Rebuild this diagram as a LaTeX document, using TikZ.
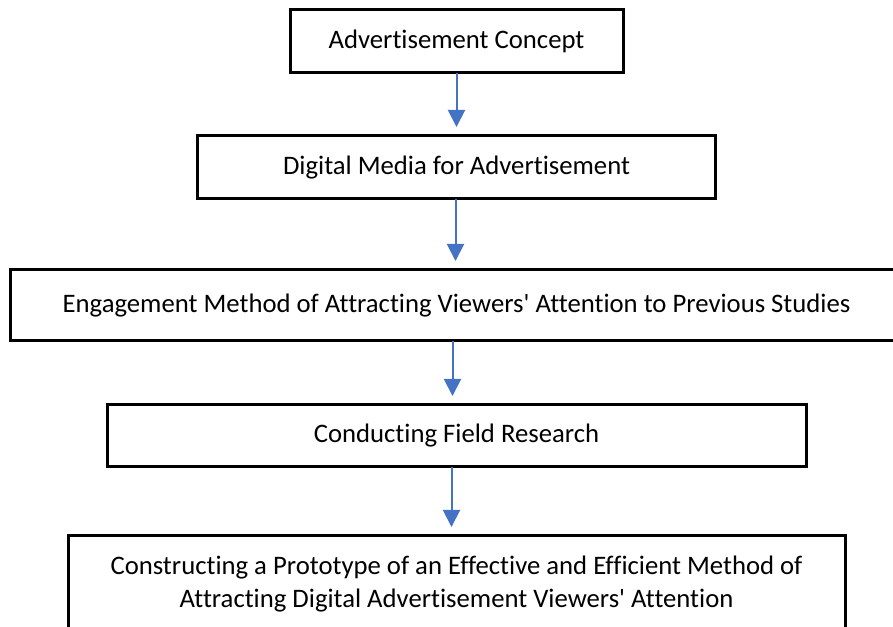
\documentclass[tikz,border=0pt]{standalone}
\usepackage{fontspec}
\setmainfont[Ligatures=NoCommon]{Carlito}
\usetikzlibrary{positioning,arrows.meta}
\definecolor{flowblue}{RGB}{68,114,196}

\begin{document}
\begin{tikzpicture}[x=1pt, y=1pt,
    box/.style={draw, line width=3pt, outer sep=0pt, inner sep=0pt,
      align=center, font=\fontsize{26.7}{33}\selectfont},
    flow/.style={draw=flowblue, line width=2pt, shorten >=9pt,
      -{Triangle[width=17pt, length=17pt]}}]
  \useasboundingbox (0,0) rectangle (893,626);
  \node [box, minimum width=333pt, minimum height=63pt] (A) at (456.5,584.5) {Advertisement Concept};
  \node [box, minimum width=518pt, minimum height=63pt, below=63pt of A] (B) {Digital Media for Advertisement};
  \node [box, minimum width=892pt, minimum height=71pt, below=71pt of B] (C) {Engagement Method of Attracting Viewers\textquotesingle{} Attention to Previous Studies};
  \node [box, minimum width=699pt, minimum height=62pt, below=64pt of C] (D) {Conducting Field Research};
  \node [box, minimum width=777pt, minimum height=96pt, below=69pt of D] (E) {Constructing a Prototype of an Effective and Efficient Method of\\Attracting Digital Advertisement Viewers\textquotesingle{} Attention};
  \draw [flow] (A.south) -- (B.north);
  \draw [flow] ([xshift=-1pt]B.south) -- ([xshift=-1pt]C.north);
  \draw [flow] ([xshift=-4pt]C.south) -- ([xshift=-4pt]D.north);
  \draw [flow] ([xshift=-5pt]D.south) -- ([xshift=-5pt]E.north);
\end{tikzpicture}
\end{document}
